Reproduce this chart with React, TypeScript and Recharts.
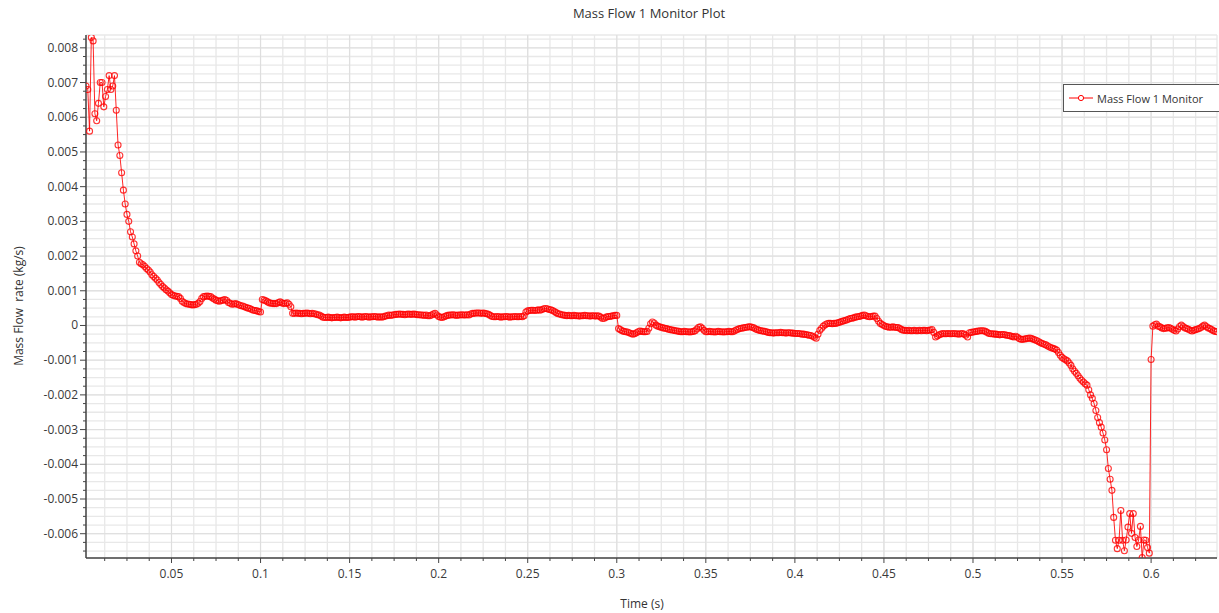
import * as React from 'react';
import { CartesianGrid, Legend, Line, LineChart, XAxis, YAxis } from 'recharts';

// Mass flow, in units of 1e-5 kg/s, one sample per 0.001 s.
const timeStep = 0.001;

const startupStart = 0.002;
const flowStartup = [
    690, 680, 560, 830, 820, 610, 590, 640, 700, 700,
    630, 660, 680, 720, 680, 690, 720, 620, 520, 490,
    440, 390, 350, 320, 300, 270, 255, 235, 215, 200,
    182, 178, 175, 170, 164, 160, 154, 146, 141, 136,
    131, 124, 118, 112, 108, 103, 99, 94, 89, 87,
    85, 84, 83, 78, 70, 66, 63, 62, 61, 60,
    59, 60, 61, 64, 69, 78, 83, 84, 85, 84,
    83, 79, 76, 73, 71, 70, 72, 73, 75, 72,
    66, 64, 61, 62, 63, 61, 59, 57, 56, 54,
    52, 50, 49, 46, 44, 43, 42, 40, 39];

const plateauStart = 0.101;
const flowPlateau = [
    75, 73, 71, 68, 65, 64, 63, 63, 63, 66,
    68, 65, 63, 64, 65, 61, 54, 35, 35, 36,
    35, 35, 34, 35, 35, 36, 35, 34, 35, 34,
    33, 31, 30, 27, 24, 23, 23, 24, 23, 22,
    23, 23, 24, 23, 22, 23, 24, 23, 23, 24,
    25, 25, 24, 25, 26, 25, 24, 25, 26, 25,
    24, 25, 25, 26, 25, 24, 25, 24, 25, 27,
    28, 30, 29, 30, 31, 32, 32, 33, 32, 32,
    31, 32, 33, 32, 32, 33, 32, 31, 31, 30,
    30, 29, 30, 28, 28, 30, 33, 35, 30, 26,
    24, 23, 25, 27, 29, 30, 30, 31, 30, 29,
    30, 30, 31, 30, 30, 31, 30, 33, 35, 35,
    36, 36, 36, 35, 36, 35, 34, 32, 29, 26,
    25, 25, 26, 25, 24, 25, 25, 26, 25, 24,
    25, 25, 26, 25, 25, 26, 25, 28, 39, 42,
    43, 44, 44, 43, 44, 45, 44, 46, 48, 49,
    48, 46, 45, 43, 40, 37, 34, 33, 31, 30,
    29, 28, 29, 28, 28, 29, 28, 28, 27, 28,
    28, 29, 28, 28, 27, 28, 28, 27, 28, 27,
    24, 20, 21, 24, 26, 26, 27, 28, 29, 29];

const middleStart = 0.301;
const flowMiddle = [
    -9, -12, -15, -17, -18, -19, -21, -23, -25, -24,
    -21, -18, -16, -17, -18, -18, -17, -8, 5, 10,
    7, 1, -2, -4, -5, -7, -8, -9, -11, -12,
    -13, -14, -15, -16, -17, -18, -18, -17, -18, -18,
    -19, -18, -17, -15, -10, -5, -4, -8, -14, -18,
    -18, -17, -18, -18, -19, -18, -17, -18, -18, -19,
    -18, -18, -17, -18, -18, -16, -13, -11, -9, -8,
    -7, -6, -5, -4, -4, -5, -7, -10, -12, -14,
    -15, -16, -17, -18, -20, -21, -21, -22, -21, -21,
    -21, -20, -21, -21, -22, -21, -21, -22, -22, -23,
    -23, -23, -24, -25, -25, -26, -27, -28, -29, -31,
    -34, -37, -25, -14, -8, -2, 2, 5, 6, 6,
    5, 6, 6, 8, 9, 11, 13, 14, 16, 18,
    20, 21, 22, 24, 25, 26, 27, 29, 30, 28,
    26, 25, 26, 27, 27, 20, 12, 6, 3, 0,
    -3, -4, -5, -5, -4, -5, -6, -6, -9, -12,
    -14, -14, -15, -14, -15, -15, -14, -15, -15, -14,
    -15, -14, -14, -15, -14, -13, -12, -20, -33, -30,
    -27, -25, -23, -24, -24, -23, -24, -24, -23, -24,
    -24, -25, -24, -23, -25, -28, -33, -21, -20, -19,
    -18, -17, -16, -15, -15, -15, -17, -20, -23, -24,
    -24, -25, -25, -26, -27, -26, -26, -27, -28, -29,
    -30, -32, -33, -31, -34, -38, -40, -40, -39, -38,
    -37, -36, -38, -40, -42, -44, -47, -50, -52, -54,
    -56, -59, -62, -64, -66, -68];

const collapseStart = 0.547;
const flowCollapse = [
    -71, -78, -86, -92, -96, -99, -102, -108, -115, -125,
    -132, -138, -145, -152, -158, -163, -168, -172, -185, -200,
    -210, -225, -245, -265, -280, -293, -310, -330, -358, -412,
    -443, -475, -553, -619, -643, -619, -533, -619, -649, -618,
    -581, -542, -599, -542, -611, -637, -618, -579, -669, -618,
    -619, -640, -656, -98];

const recoveryStart = 0.601;
const flowRecovery = [
    -2, 2, 4, -2, -4, -7, -9, -8, -7, -6,
    -8, -11, -14, -16, -10, -3, 1, -3, -7, -9,
    -11, -14, -16, -14, -12, -10, -9, -6, -2, 1,
    -3, -7, -9, -12, -15, -17, -18];

const xLabelTicks = [0.05, 0.1, 0.15, 0.2, 0.25, 0.3, 0.35, 0.4, 0.45, 0.5, 0.55, 0.6];
const yLabelTicks = [-0.006, -0.005, -0.004, -0.003, -0.002, -0.001, 0, 0.001, 0.002, 0.003, 0.004, 0.005, 0.006, 0.007, 0.008];

const segments = [
    { start: startupStart, values: flowStartup },
    { start: plateauStart, values: flowPlateau },
    { start: middleStart, values: flowMiddle },
    { start: collapseStart, values: flowCollapse },
    { start: recoveryStart, values: flowRecovery },
];

const data = segments.flatMap(seg =>
    seg.values.map((v, i) => ({ time: +(seg.start + i * timeStep).toFixed(3), flow: v * 1e-5 })));

// minor ticks: 4 intervals per major on both axes
const xTicks: number[] = [];
for (let k = 1; k <= 50; k++) xTicks.push(+(k * 0.0125).toFixed(4));
const yTicks: number[] = [];
for (let k = -26; k <= 33; k++) yTicks.push(+(k * 0.00025).toFixed(5));

const xDomain = [0.002, 0.637];
const yDomain = [-0.0067, 0.00837];

const FONT = '"Open Sans", "Noto Sans", sans-serif';
const RED = '#ff0000';

const isMajor = (v: number, majors: number[]) => majors.some(m => Math.abs(m - v) < 1e-7);

// major grid lines sit on top of the light minor grid, placed through the axis scales
const majorVertical = ({ xAxis, offset }: any) =>
    xLabelTicks.map(t => (xAxis && typeof xAxis.scale === 'function')
        ? xAxis.scale(t)
        : offset.left + ((t - xDomain[0]) / (xDomain[1] - xDomain[0])) * offset.width);
const majorHorizontal = ({ yAxis, offset }: any) =>
    yLabelTicks.map(t => (yAxis && typeof yAxis.scale === 'function')
        ? yAxis.scale(t)
        : offset.top + ((yDomain[1] - t) / (yDomain[1] - yDomain[0])) * offset.height);

const XTick = (props: any) => {
    const { x, y, payload } = props;
    const major = isMajor(payload.value, xLabelTicks);
    return (
        <g>
            <line x1={x} x2={x} y1={y} y2={y + (major ? 5 : 3)} stroke="#444" strokeWidth={1} />
            {major && (
                <text x={x} y={y + 20} textAnchor="middle" fill="#3a3a3a" fontSize={12} fontFamily={FONT}>
                    {String(+payload.value.toFixed(2))}
                </text>
            )}
        </g>
    );
};

const YTick = (props: any) => {
    const { x, y, payload } = props;
    const v = payload.value;
    const major = isMajor(v, yLabelTicks);
    return (
        <g>
            <line x1={x - (major ? 6 : 3)} x2={x} y1={y} y2={y} stroke="#444" strokeWidth={1} />
            {major && (
                <text x={x - 8} y={y + 4} textAnchor="end" fill="#3a3a3a" fontSize={12} fontFamily={FONT}>
                    {Math.abs(v) < 1e-9 ? '0' : v.toFixed(3)}
                </text>
            )}
        </g>
    );
};

const LegendBox = () => (
    <div style={{
        boxSizing: 'border-box', width: 156, height: 28, border: '1px solid #555', borderRight: 'none',
        background: '#fff', display: 'flex', alignItems: 'center', paddingLeft: 5,
        fontFamily: FONT, fontSize: 11, color: '#333', whiteSpace: 'nowrap',
    }}>
        <svg width={24} height={8}>
            <line x1={0} y1={4} x2={24} y2={4} stroke={RED} strokeWidth={1} />
            <circle cx={12} cy={4} r={2.6} fill="#fff" stroke={RED} strokeWidth={1} />
        </svg>
        <span style={{ marginLeft: 4 }}>Mass Flow 1 Monitor</span>
    </div>
);

export default function App() {
    return (
        <div style={{ position: 'absolute', left: 0, top: 0, width: 1219, height: 613, background: '#fff' }}>
            <LineChart width={1219} height={613} data={data} margin={{ top: 35, right: 2, bottom: 0, left: 0 }}>
                <CartesianGrid stroke="#e8e8e8" strokeWidth={1.3} />
                <CartesianGrid
                    stroke="#dedede"
                    strokeWidth={1}
                    verticalCoordinatesGenerator={majorVertical}
                    horizontalCoordinatesGenerator={majorHorizontal}
                />
                <XAxis
                    dataKey="time"
                    type="number"
                    domain={xDomain}
                    allowDataOverflow
                    ticks={xTicks}
                    interval={0}
                    height={55}
                    tickSize={0}
                    tickMargin={0}
                    tickLine={false}
                    tick={XTick}
                    axisLine={{ stroke: '#444', strokeWidth: 1.5 }}
                />
                <YAxis
                    type="number"
                    domain={yDomain}
                    allowDataOverflow
                    ticks={yTicks}
                    interval={0}
                    width={86}
                    tickSize={0}
                    tickMargin={0}
                    tickLine={false}
                    tick={YTick}
                    axisLine={{ stroke: '#444', strokeWidth: 1.5 }}
                />
                <Legend
                    layout="vertical"
                    align="center"
                    verticalAlign="middle"
                    content={LegendBox}
                    wrapperStyle={{ left: 1063, top: 84, right: 'auto', bottom: 'auto', width: 156, height: 28 }}
                />
                <Line
                    type="linear"
                    dataKey="flow"
                    name="Mass Flow 1 Monitor"
                    stroke={RED}
                    strokeWidth={1}
                    strokeOpacity={0.85}
                    dot={{ r: 3, stroke: RED, strokeWidth: 1.1, fill: 'none', strokeOpacity: 0.8 }}
                    activeDot={false}
                    isAnimationActive={false}
                />
            </LineChart>
            <svg width={1219} height={613} style={{ position: 'absolute', left: 0, top: 0, pointerEvents: 'none' }}>
                <text x={649} y={18} textAnchor="middle" fontSize={13} fill="#333" fontFamily={FONT}>
                    Mass Flow 1 Monitor Plot
                </text>
                <text x={642} y={608} textAnchor="middle" fontSize={12} fill="#333" fontFamily={FONT}>
                    Time (s)
                </text>
                <text x={23} y={306} textAnchor="middle" fontSize={12} fill="#333" fontFamily={FONT}
                    transform="rotate(-90, 23, 306)" style={{ whiteSpace: 'pre' }}>
                    {'Mass Flow  rate (kg/s)'}
                </text>
            </svg>
        </div>
    );
}
